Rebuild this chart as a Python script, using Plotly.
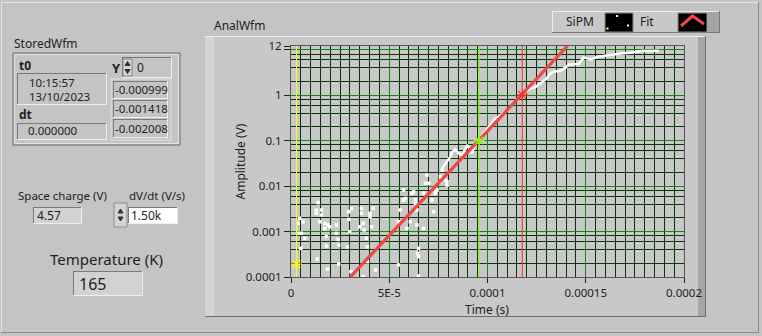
import math
import plotly.graph_objects as go

W, H = 762, 336
BG = '#c4c4c4'
FONT = 'Noto Sans'
TXT = '#1e1e1e'

# ---------------- data ----------------
# SiPM waveform: continuous part (time in microseconds, amplitude in V)
line_t_us = [76.9, 81.1, 82.0, 83.7, 85.4, 87.1, 88.8, 89.6, 91.3, 92.2, 93.0, 95.6, 98.1,
             100.7, 103.2, 106.6, 110.1, 113.4, 116.8, 119.4, 121.9, 124.5, 127.0, 129.6,
             132.1, 133.7, 137.2, 139.8, 141.3, 146.4, 149.0, 152.6, 156.1, 161.2, 167.9,
             172.9, 178.1, 183.2, 187.2]
line_v = [0.0245, 0.044, 0.0567, 0.064, 0.052, 0.048, 0.067, 0.080, 0.062, 0.052, 0.073,
          0.1025, 0.144, 0.201, 0.282, 0.363, 0.452, 0.677, 0.918, 1.18, 1.40, 1.52, 1.81,
          2.21, 3.0, 3.25, 3.42, 4.06, 4.73, 4.80, 6.74, 6.09, 6.95, 7.57, 8.25, 8.51, 9.27,
          9.27, 9.41]

# SiPM waveform: isolated positive samples (noise region)
dots_t_us = [4.44, 3.57, 6.12, 3.57, 5.26, 6.99, 4.95,
             13.8, 12.9, 15.5, 15.5, 14.6, 17.2, 17.2, 18.9, 19.7, 18.0, 18.0, 12.9,
             23.1, 23.1, 24.0, 24.3,
             29.4, 29.4, 29.9, 28.7, 30.8,
             35.9, 35.9, 36.7, 37.2, 38.4, 38.9, 40.2, 41.8, 41.0, 40.2, 35.0,
             13.4, 18.5, 24.3, 30.5, 36.7, 43.0, 38.9,
             76.9, 76.0, 78.6, 79.4, 69.2, 68.4, 67.5, 73.5, 71.8, 72.6,
             62.4, 63.3, 64.1, 57.3, 57.3, 55.6, 54.7, 60.7, 59.0, 64.1, 67.5,
             64.9, 64.4, 64.9, 54.7, 64.9,
             58.2, 61.6, 63.3, 70.1, 73.5, 74.3, 76.0, 79.4]
dots_v = [0.00195, 0.00151, 0.00164, 0.000912, 0.000912, 0.00071, 0.000428,
          0.0043, 0.00297, 0.00297, 0.00231, 0.00164, 0.00151, 0.00117, 0.00139, 0.00127, 0.00077, 0.00048, 0.00251,
          0.00139, 0.00091, 0.00067, 0.000505,
          0.00272, 0.00185, 0.00099, 0.00046, 0.00324,
          0.00324, 0.00251, 0.00151, 0.00108, 0.00071, 0.00046, 0.00251, 0.00324, 0.00127, 0.00211, 0.00127,
          0.000249, 0.00015, 0.000193, 0.000131, 0.000102, 0.000143, 0.000217,
          0.0225, 0.016, 0.01355, 0.0105, 0.01745, 0.01146, 0.00702, 0.0075, 0.00492, 0.00272,
          0.0075, 0.00492, 0.00297, 0.00817, 0.00492, 0.00297, 0.00164, 0.00164, 0.00117, 0.00139, 0.00117,
          0.000428, 0.000332, 0.000279, 0.000184, 0.000105,
          0.00536, 0.0069, 0.00417, 0.01146, 0.0069, 0.00817, 0.01245, 0.01245]

# Exponential fit (straight line on the log scale)
fit_t_us = [30.1, 140.7]
fit_v = [1e-4, 12]

# Cursors
cursor_t_us = [2.8, 95.8, 117.7]
cursor_v = [1.93e-4, 0.1, 1.0]
cursor_colors = ['#ffff00', '#80ff00', '#ff2a2a']

# Axis ticks
x_tickvals = [0, 5e-5, 1e-4, 1.5e-4, 2e-4]
x_ticktext = ['0', '5E-5', '0.0001', '0.00015', '0.0002']
y_tickvals = [1e-4, 1e-3, 1e-2, 0.1, 1, 10, 12]
y_ticktext = ['0.0001', '0.001', '0.01', '0.1', '1', '', '12']

# Panel indicator values
t0_time = '10:15:57'
t0_date = '13/10/2023'
dt_value = '0.000000'
array_index = '0'
array_values = ['-0.000999', '-0.001418', '-0.002008']
space_charge = '4.57'
dvdt = '1.50k'
temperature = '165'

# ---------------- helpers ----------------
def X(p):
    return p / W


def Y(p):
    return 1 - p / H


shapes = []
annotations = []


def rect(x0, y0, x1, y1, fill=None, line=None, lw=1, layer='above'):
    shapes.append(dict(type='rect', xref='paper', yref='paper', x0=X(x0), x1=X(x1), y0=Y(y0), y1=Y(y1),
                       fillcolor=fill if fill else 'rgba(0,0,0,0)',
                       line=dict(color=line if line else 'rgba(0,0,0,0)', width=lw if line else 0),
                       layer=layer))


def hline(x0, x1, y, color, lw=1, layer='above'):
    shapes.append(dict(type='line', xref='paper', yref='paper', x0=X(x0), x1=X(x1), y0=Y(y), y1=Y(y),
                       line=dict(color=color, width=lw), layer=layer))


def vline(x, y0, y1, color, lw=1, layer='above'):
    shapes.append(dict(type='line', xref='paper', yref='paper', x0=X(x), x1=X(x), y0=Y(y0), y1=Y(y1),
                       line=dict(color=color, width=lw), layer=layer))


def path(pts, color, lw=1, fill=None):
    d = 'M ' + ' L '.join(f'{X(a):.5f},{Y(b):.5f}' for a, b in pts)
    if fill:
        d += ' Z'
    shapes.append(dict(type='path', xref='paper', yref='paper', path=d,
                       line=dict(color=color, width=lw), fillcolor=fill if fill else 'rgba(0,0,0,0)',
                       layer='above'))


def sunken(x0, y0, x1, y1, fill=BG):
    rect(x0, y0, x1, y1, fill=fill)
    hline(x0, x1, y0 + 0.5, '#7a7a7a')
    vline(x0 + 0.5, y0, y1, '#7a7a7a')
    hline(x0, x1, y1 - 0.5, '#eeeeee')
    vline(x1 - 0.5, y0, y1, '#eeeeee')


def text(x, y, s, size=12, anchor='left', color=TXT, bold=False, angle=0):
    if bold:
        s = f'<b>{s}</b>'
    annotations.append(dict(xref='paper', yref='paper', x=X(x), y=Y(y), text=s, showarrow=False,
                            xanchor=anchor, yanchor='middle', textangle=angle, borderpad=0,
                            font=dict(family=FONT, size=size, color=color)))


def spinner(x0, y0, x1, y1):
    rect(x0, y0, x1, y1, fill='#d4d4d4', line='#8a8a8a')
    xm = (x0 + x1) / 2
    ym = (y0 + y1) / 2
    path([(xm - 2.5, ym - 2), (xm + 2.5, ym - 2), (xm, ym - 6)], '#303030', 1, fill='#303030')
    path([(xm - 2.5, ym + 2), (xm + 2.5, ym + 2), (xm, ym + 6)], '#303030', 1, fill='#303030')


# ---------------- panel decoration ----------------
# outer panel border
hline(1, 759, 2.5, '#e6e6e6', layer='below')
vline(1.5, 2, 333, '#e6e6e6', layer='below')
vline(758.5, 2, 333, '#8a8a8a', layer='below')
hline(1, 759, 332.5, '#8a8a8a', layer='below')

# Graph frame (raised)
rect(205, 36, 706, 317, fill='#c8c8c8', layer='below')
rect(205, 36, 214, 317, fill='#d4d4d4', layer='below')
rect(698, 36, 706, 317, fill='#a6a6a6', layer='below')
hline(205, 706, 36.5, '#ededed', layer='below')
hline(205, 706, 316.5, '#6e6e6e', layer='below')
vline(705.5, 36, 317, '#6e6e6e', layer='below')
text(213, 26, 'AnalWfm', 12)

# Legend box
rect(552, 11, 720, 33, fill='#c8c8c8')
rect(708, 11, 720, 33, fill='#a4a4a4')
hline(552, 720, 11.5, '#ececec')
vline(552.5, 11, 33, '#ececec')
hline(552, 720, 32.5, '#7a7a7a')
vline(719.5, 11, 33, '#7a7a7a')
text(580, 22, 'SiPM', 12, anchor='center')
rect(605, 13, 633, 32, fill='#000000', line='#8a8a8a')
for (a, b) in [(616, 15), (627, 24.5), (606.5, 27.5)]:
    rect(a, b, a + 2, b + 2, fill='#ffffff')
text(647, 22, 'Fit', 12, anchor='center')
rect(678, 13, 707, 32, fill='#000000', line='#8a8a8a')
path([(681, 26), (692.5, 16), (704, 24)], '#f04646', 3)

# StoredWfm cluster
text(13, 44, 'StoredWfm', 12)
rect(13, 53, 180, 145, fill=BG, line='#6a6a6a')
rect(14.5, 54.5, 178.5, 143.5, line='#e4e4e4')
text(18, 66, 't0', 12, bold=True)
sunken(17, 73, 107, 105)
text(28, 82.5, t0_time, 11.5)
text(28, 97, t0_date, 11.5)
text(18, 114, 'dt', 12, bold=True)
sunken(17, 123, 107, 140)
text(27, 131, dt_value, 11.5)
text(111, 68, 'Y', 13, bold=True)
sunken(122, 57, 172, 78)
spinner(123, 59, 132, 76)
text(136, 68, array_index, 12)
rect(111, 79, 171, 140, fill=BG, line='#e2e2e2')
for i, (r0, r1) in enumerate([(81, 99), (100, 118), (119, 138)]):
    sunken(113, r0, 168, r1)
    text(141, (r0 + r1) / 2, array_values[i], 11.5, anchor='center')

# Space charge / dV/dt
text(62, 195, 'Space charge (V)', 11.5, anchor='center')
sunken(33, 207, 82, 224, fill='#d2d2d2')
text(36, 215.5, space_charge, 12)
text(157, 195, 'dV/dt (V/s)', 11.5, anchor='center')
spinner(114, 203, 127, 227)
sunken(128, 207, 178, 224, fill='#ffffff')
text(130, 215.5, dvdt, 12)

# Temperature
text(106, 259, 'Temperature (K)', 15, anchor='center')
sunken(73, 271, 143, 296, fill='#d2d2d2')
text(78, 284, temperature, 16)

# axis titles
text(240, 161.5, 'Amplitude (V)', 12, anchor='center', angle=-90)
text(487, 309, 'Time (s)', 12, anchor='center')

# cursor vertical lines (data-driven)
for t, c in zip(cursor_t_us, cursor_colors):
    shapes.append(dict(type='line', xref='x', yref='y domain', x0=t * 1e-6, x1=t * 1e-6, y0=0, y1=1,
                       line=dict(color=c, width=1), layer='above'))

# ---------------- figure ----------------
fig = go.Figure()
fig.add_trace(go.Scatter(x=[t * 1e-6 for t in dots_t_us], y=dots_v, mode='markers',
                         marker=dict(symbol='square', size=3.5, color='#ffffff', line=dict(width=0)),
                         name='SiPM', showlegend=False, cliponaxis=True))
fig.add_trace(go.Scatter(x=[t * 1e-6 for t in line_t_us], y=line_v, mode='lines',
                         line=dict(color='#ffffff', width=2.5), name='SiPM', showlegend=False))
fig.add_trace(go.Scatter(x=[t * 1e-6 for t in fit_t_us], y=fit_v, mode='lines',
                         line=dict(color='#f04646', width=3.2), name='Fit', showlegend=False))
fig.add_trace(go.Scatter(x=[t * 1e-6 for t in cursor_t_us], y=cursor_v, mode='markers',
                         marker=dict(symbol='asterisk-open', size=9, color=cursor_colors,
                                     line=dict(color=cursor_colors, width=1.2)),
                         showlegend=False))

minor_y = [k * 10 ** d for d in range(-4, 1) for k in (2, 4, 6, 8)]
tickfont = dict(family=FONT, size=11.5, color=TXT)

fig.update_layout(
    width=W, height=H,
    margin=dict(l=0, r=0, t=0, b=0, pad=0, autoexpand=False),
    paper_bgcolor=BG, plot_bgcolor='#040404',
    showlegend=False,
    shapes=shapes, annotations=annotations,
    xaxis=dict(domain=[291 / W, 684 / W], range=[0, 2e-4], tickmode='array', automargin=False,
               tickvals=x_tickvals, ticktext=x_ticktext, ticks='outside', ticklen=5,
               tickcolor='#202020', tickfont=tickfont, showgrid=True, gridcolor='#118611', gridwidth=1,
               minor=dict(dtick=5e-6, tick0=0, showgrid=True, gridcolor='#093309', gridwidth=1, ticks=''),
               zeroline=False, showline=True, linecolor='#555555', linewidth=1, mirror=True),
    yaxis=dict(domain=[1 - 277 / H, 1 - 46 / H], type='log', range=[-4, math.log10(12)],
               tickmode='array', tickvals=y_tickvals, ticktext=y_ticktext, ticks='outside', ticklen=6,
               automargin=False,
               tickcolor='#202020', tickfont=tickfont, showgrid=True, gridcolor='#118611', gridwidth=1,
               minor=dict(tickmode='array', tickvals=minor_y, showgrid=True, gridcolor='#093309',
                          gridwidth=1, ticks=''),
               zeroline=False, showline=True, linecolor='#555555', linewidth=1, mirror=True),
)

fig.write_html('out.html')
